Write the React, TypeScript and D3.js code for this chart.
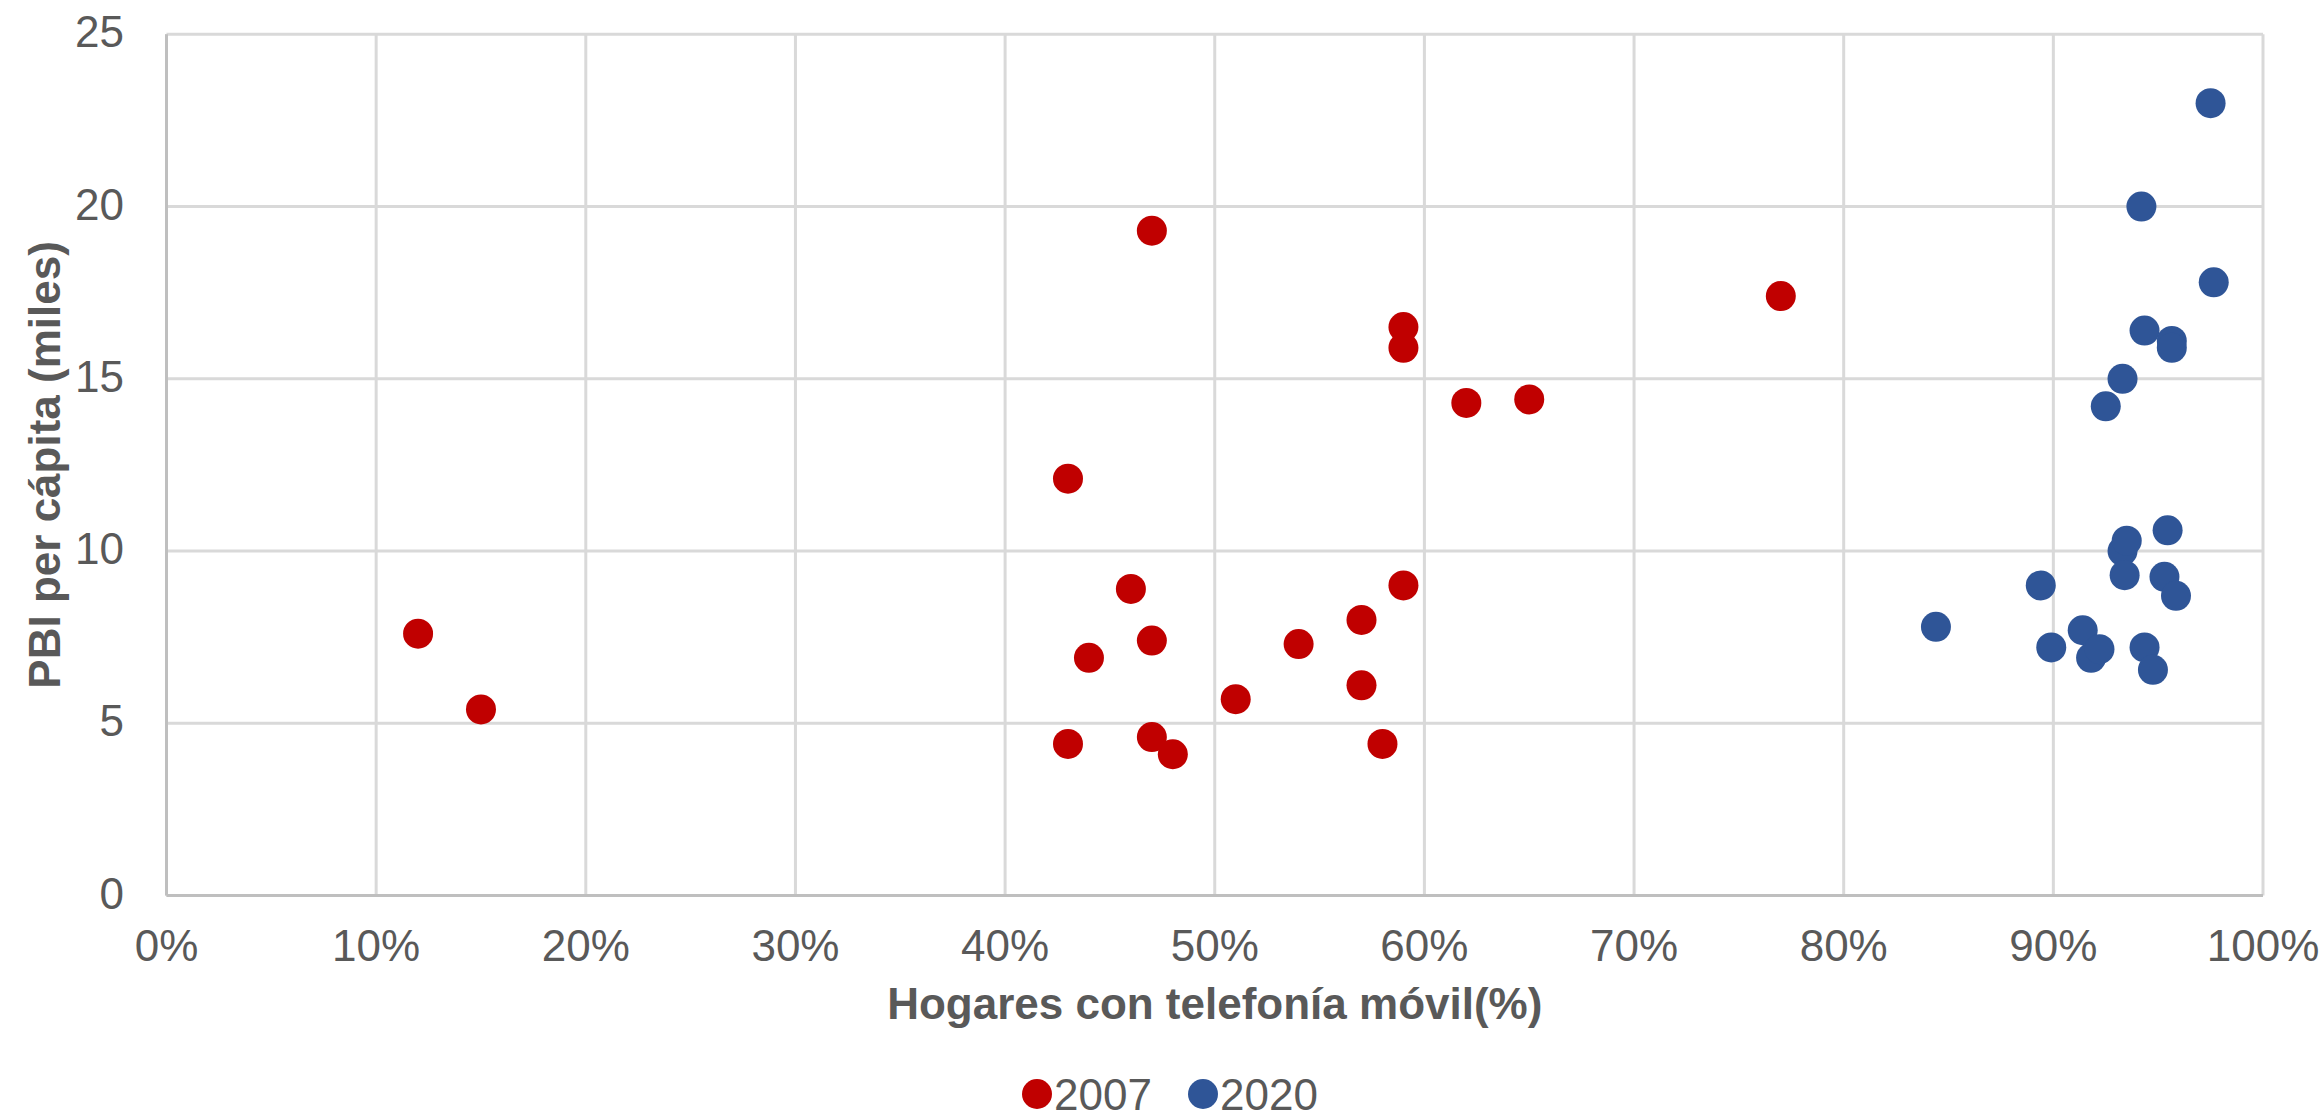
import React, { useEffect } from "react";
import * as d3 from "d3";

// Hogares con telefonía móvil (%) vs PBI per cápita (miles)
const x2007 = [12, 15, 43, 43, 44, 46, 47, 47, 47, 48, 51, 54, 57, 57, 58, 59, 59, 59, 62, 65, 77];
const y2007 = [7.6, 5.4, 12.1, 4.4, 6.9, 8.9, 19.3, 7.4, 4.6, 4.1, 5.7, 7.3, 8.0, 6.1, 4.4, 16.5, 15.9, 9.0, 14.3, 14.4, 17.4];

const x2020 = [84.4, 89.4, 89.9, 91.4, 91.8, 92.2, 92.5, 93.3, 93.3, 93.5, 93.4, 94.2, 94.35, 94.35, 94.75, 95.3, 95.45, 95.65, 95.65, 95.85, 97.5, 97.65];
const y2020 = [7.8, 9.0, 7.2, 7.7, 6.9, 7.15, 14.2, 15.0, 10.0, 10.3, 9.3, 20.0, 16.4, 7.2, 6.55, 9.25, 10.6, 16.1, 15.9, 8.7, 23.0, 17.8];

const xTicks = [0, 10, 20, 30, 40, 50, 60, 70, 80, 90, 100];
const yTicks = [0, 5, 10, 15, 20, 25];

const seriesNames = ["2007", "2020"];
const seriesColors = ["#C00000", "#2F5597"];

const W = 2323;
const H = 1119;
const plot = { left: 166.5, right: 2263, top: 34.3, bottom: 895.5 };
const FONT = "'Liberation Sans', Arial, Helvetica, sans-serif";

export default function App() {
  useEffect(() => {
    document.body.style.margin = "0";
    document.body.style.overflow = "hidden";
  }, []);

  const x = d3.scaleLinear().domain([0, 100]).range([plot.left, plot.right]);
  const y = d3.scaleLinear().domain([0, 25]).range([plot.bottom, plot.top]);

  const series = [
    { name: seriesNames[0], color: seriesColors[0], pts: d3.zip(x2007, y2007) },
    { name: seriesNames[1], color: seriesColors[1], pts: d3.zip(x2020, y2020) },
  ];

  const legendX = [1037, 1203];
  const legendY = 1094;

  return (
    <svg
      width={W}
      height={H}
      style={{ position: "absolute", left: 0, top: 0, background: "#fff" }}
      fontFamily={FONT}
    >
      <rect x={0} y={0} width={W} height={H} fill="#fff" />
      {/* gridlines */}
      {yTicks.map((t) => (
        <line key={"gy" + t} x1={plot.left} x2={plot.right} y1={y(t)} y2={y(t)} stroke="#D9D9D9" strokeWidth={3} />
      ))}
      {xTicks.map((t) => (
        <line key={"gx" + t} x1={x(t)} x2={x(t)} y1={plot.top} y2={plot.bottom} stroke="#D9D9D9" strokeWidth={3} />
      ))}
      {/* axes */}
      <line x1={plot.left} x2={plot.left} y1={plot.top} y2={plot.bottom} stroke="#BFBFBF" strokeWidth={3} />
      <line x1={plot.left} x2={plot.right} y1={plot.bottom} y2={plot.bottom} stroke="#BFBFBF" strokeWidth={3} />

      {/* tick labels */}
      {yTicks.map((t) => (
        <text key={"ty" + t} x={124} y={y(t) + 13} textAnchor="end" fontSize={44} fill="#595959">
          {t}
        </text>
      ))}
      {xTicks.map((t) => (
        <text key={"tx" + t} x={x(t)} y={961} textAnchor="middle" fontSize={44} fill="#595959">
          {t + "%"}
        </text>
      ))}

      {/* axis titles */}
      <text x={(plot.left + plot.right) / 2} y={1019} textAnchor="middle" fontSize={44} fontWeight="bold" fill="#595959">
        Hogares con telefonía móvil(%)
      </text>
      <text
        transform={`translate(45, ${(plot.top + plot.bottom) / 2}) rotate(-90)`}
        textAnchor="middle"
        dy="0.35em"
        fontSize={44}
        fontWeight="bold"
        fill="#595959"
      >
        PBI per cápita (miles)
      </text>

      {/* points */}
      {series.map((s) => (
        <g key={s.name}>
          {s.pts.map(([px, py], i) => (
            <circle key={i} cx={x(px)} cy={y(py)} r={15} fill={s.color} />
          ))}
        </g>
      ))}

      {/* legend */}
      {series.map((s, i) => (
        <g key={"lg" + s.name}>
          <circle cx={legendX[i]} cy={legendY} r={15} fill={s.color} />
          <text x={legendX[i] + 17} y={legendY + 16} fontSize={44} fill="#595959">
            {s.name}
          </text>
        </g>
      ))}
    </svg>
  );
}
